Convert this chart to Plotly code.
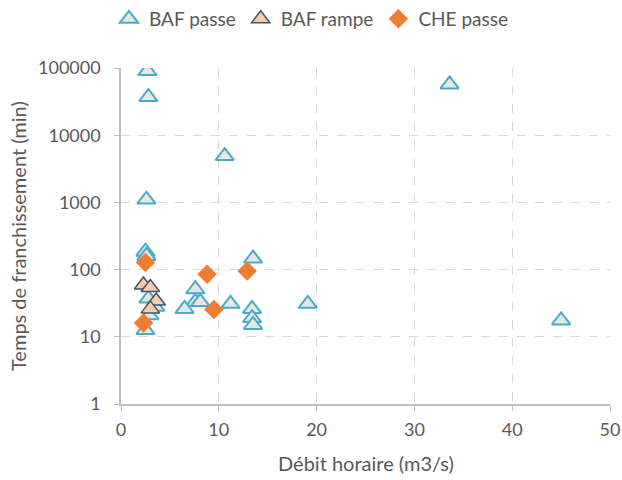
import plotly.graph_objects as go

# Débit horaire (m3/s) vs temps de franchissement (min)
baf_passe_x = [2.7, 2.8, 10.6, 33.6, 2.6, 2.5, 2.6, 13.5, 2.8, 3.5, 2.9, 2.5,
               7.6, 7.6, 8.1, 6.5, 11.2, 13.4, 13.4, 13.5, 19.1, 45.0]
baf_passe_y = [90000, 37000, 4900, 57000, 1100, 185, 160, 146, 37, 28, 21, 12.6,
               51, 33, 33, 26, 31, 26, 19, 15, 31, 17.5]

baf_rampe_x = [2.3, 3.0, 3.6, 3.0]
baf_rampe_y = [59, 54, 34, 26]

che_passe_x = [2.5, 8.8, 12.9, 2.3, 9.5]
che_passe_y = [128, 85, 95, 16, 25.5]

y_ticks = [1, 10, 100, 1000, 10000, 100000]
y_ticktext = ["1", "10", "100", "1000", "10000", "100000"]
x_ticks = [0, 10, 20, 30, 40, 50]

font_family = "Lato, Open Sans, sans-serif"
text_color = "#595959"
grid_color = "#D9D9D9"
axis_color = "#BFBFBF"
tick_size = 18
legend_size = 19
title_size = 20

fig = go.Figure()

fig.add_trace(go.Scatter(
    x=baf_passe_x, y=baf_passe_y, mode="markers", name="BAF passe",
    marker=dict(symbol="triangle-up", size=16, color="#E7E6E6",
                line=dict(color="#4BACC6", width=2)),
))
fig.add_trace(go.Scatter(
    x=baf_rampe_x, y=baf_rampe_y, mode="markers", name="BAF rampe",
    marker=dict(symbol="triangle-up", size=16, color="#F8CBAD",
                line=dict(color="#44546A", width=1.5)),
))
fig.add_trace(go.Scatter(
    x=che_passe_x, y=che_passe_y, mode="markers", name="CHE passe",
    marker=dict(symbol="diamond", size=15, color="#ED7D31",
                line=dict(color="#ED7D31", width=0)),
))

fig.update_layout(
    width=622, height=480,
    margin=dict(l=121, r=12, t=68, b=76),
    paper_bgcolor="white", plot_bgcolor="white",
    font=dict(family=font_family, color=text_color, size=tick_size),
    showlegend=True,
    legend=dict(orientation="h", x=0.5, xref="container", xanchor="center",
                y=1.0, yref="container", yanchor="top",
                font=dict(size=legend_size, color=text_color),
                tracegroupgap=0),
    xaxis=dict(
        range=[0, 50], tickvals=x_ticks, automargin=False,
        showgrid=True, gridcolor=grid_color, griddash="dash", gridwidth=1,
        showline=True, linecolor=axis_color, linewidth=1.5,
        ticks="outside", ticklen=5, tickcolor=axis_color,
        ticklabelstandoff=4,
        zeroline=False,
        tickfont=dict(size=tick_size, color=text_color),
    ),
    yaxis=dict(
        type="log", range=[0, 5], tickvals=y_ticks, ticktext=y_ticktext,
        automargin=False,
        showgrid=True, gridcolor=grid_color, griddash="dash", gridwidth=1,
        showline=True, linecolor=axis_color, linewidth=1.5,
        ticks="outside", ticklen=5, tickcolor=axis_color,
        ticklabelstandoff=10,
        zeroline=False,
        tickfont=dict(size=tick_size, color=text_color),
    ),
    annotations=[
        dict(text="Débit horaire (m3/s)", xref="paper", yref="paper",
             x=0.5, y=0, xanchor="center", yanchor="middle", yshift=-59,
             showarrow=False, font=dict(size=title_size, color=text_color)),
        dict(text="Temps de franchissement (min)", xref="paper", yref="paper",
             x=0, y=0.5, xanchor="center", yanchor="middle", xshift=-103,
             textangle=-90, showarrow=False,
             font=dict(size=title_size, color=text_color)),
    ],
)

fig.write_html("out.html")
